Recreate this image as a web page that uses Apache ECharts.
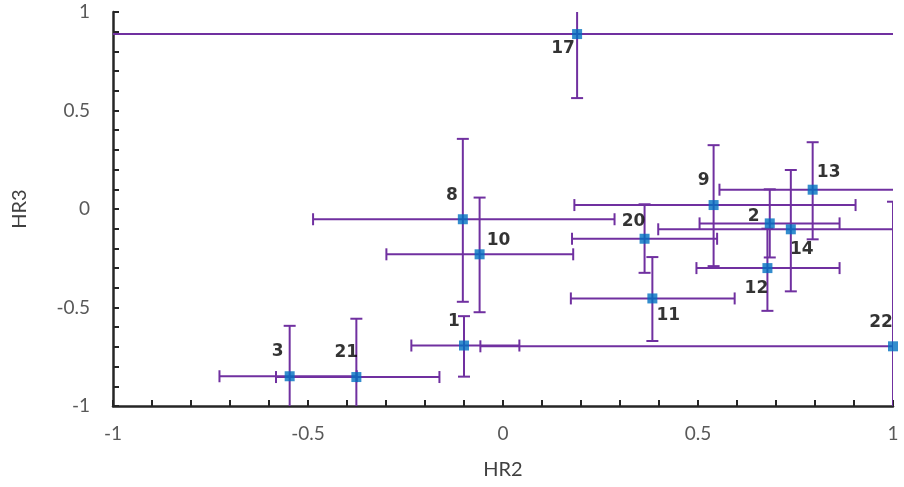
<!DOCTYPE html>
<html>
<head>
<meta charset="utf-8">
<script src="https://cdn.jsdelivr.net/npm/echarts@6/dist/echarts.min.js"></script>
<style>
  html, body { margin: 0; padding: 0; background: #fff; }
  #chart { width: 904px; height: 487px; }
</style>
</head>
<body>
<div id="chart"></div>
<script>
// Point identifiers
const ids = ['1', '2', '3', '8', '9', '10', '11', '12', '13', '14', '17', '20', '21', '22'];
// Hardness ratios (centre values)
const hr2 = [-0.10, 0.684, -0.547, -0.103, 0.540, -0.060, 0.383, 0.678, 0.794, 0.738, 0.190, 0.363, -0.376, 1.000];
const hr3 = [-0.693, -0.073, -0.849, -0.052, 0.020, -0.230, -0.454, -0.300, 0.098, -0.103, 0.888, -0.151, -0.853, -0.697];
// Error ranges on HR2 (low / high)
const hr2Lo = [-0.235, 0.504, -0.727, -0.487, 0.183, -0.299, 0.174, 0.496, 0.555, 0.398, -1.2, 0.177, -0.582, -0.058];
const hr2Hi = [0.042, 0.863, -0.375, 0.286, 0.904, 0.180, 0.594, 0.863, 1.05, 1.05, 1.2, 0.549, -0.163, 1.1];
// Error ranges on HR3 (low / high)
const hr3Lo = [-0.851, -0.246, -1.1, -0.471, -0.290, -0.524, -0.670, -0.517, -0.154, -0.418, 0.563, -0.324, -1.1, -1.1];
const hr3Hi = [-0.544, 0.100, -0.593, 0.356, 0.324, 0.058, -0.244, -0.100, 0.339, 0.198, 1.1, 0.024, -0.557, 0.037];

// Label placement relative to each marker (pixels)
const labelOffsets = [[-10, -24], [-16, -7], [-12, -25], [-11, -24], [-10, -24], [19, -14], [16, 17],
                      [-11, 20], [16, -17], [11, 20], [-14, 15], [-11, -17], [-10, -24], [-12, -24]];

const barColor = '#7030A0';
const markColor = '#0070C0';
const capHalf = 6;

const errData = ids.map((id, i) => [hr2[i], hr3[i], hr2Lo[i], hr2Hi[i], hr3Lo[i], hr3Hi[i]]);
const ptData = ids.map((id, i) => ({
  value: [hr2[i], hr3[i]],
  name: id,
  label: { offset: labelOffsets[i] }
}));

function renderErrorBars(params, api) {
  const x = api.value(0), y = api.value(1);
  const c = api.coord([x, y]);
  const l = api.coord([api.value(2), y]);
  const r = api.coord([api.value(3), y]);
  const b = api.coord([x, api.value(4)]);
  const t = api.coord([x, api.value(5)]);
  const style = { stroke: barColor, lineWidth: 2, fill: null };
  const seg = (x1, y1, x2, y2) => ({ type: 'line', shape: { x1, y1, x2, y2 }, style });
  return {
    type: 'group',
    children: [
      seg(l[0], c[1], r[0], c[1]),
      seg(l[0], c[1] - capHalf, l[0], c[1] + capHalf),
      seg(r[0], c[1] - capHalf, r[0], c[1] + capHalf),
      seg(c[0], b[1], c[0], t[1]),
      seg(c[0] - capHalf, b[1], c[0] + capHalf, b[1]),
      seg(c[0] - capHalf, t[1], c[0] + capHalf, t[1])
    ]
  };
}

function fmtTick(v) {
  const r = Math.round(v * 10) / 10;
  if (Math.abs(r * 2 - Math.round(r * 2)) > 1e-6) return '';
  return String(r);
}

const axisCommon = {
  type: 'value',
  min: -1,
  max: 1,
  interval: 0.1,
  splitLine: { show: false },
  axisLine: { show: true, onZero: false, lineStyle: { color: '#262626', width: 2.5 } },
  axisTick: { show: true, inside: true, length: 6, lineStyle: { color: '#262626', width: 2 } },
  nameLocation: 'middle',
  nameTextStyle: { fontFamily: 'Lato', fontSize: 20, color: '#404040' }
};

const chart = echarts.init(document.getElementById('chart'), null, { renderer: 'canvas' });
chart.setOption({
  animation: false,
  backgroundColor: '#ffffff',
  grid: { left: 113, right: 11, top: 12, bottom: 81, containLabel: false },
  xAxis: Object.assign({}, axisCommon, {
    name: 'HR2',
    nameGap: 54,
    axisLabel: { formatter: fmtTick, margin: 18, fontFamily: 'Lato', fontSize: 19, color: '#595959', showMinLabel: true, showMaxLabel: true }
  }),
  yAxis: Object.assign({}, axisCommon, {
    name: 'HR3',
    nameGap: 83,
    nameRotate: 90,
    axisLabel: { formatter: fmtTick, margin: 23, fontFamily: 'Lato', fontSize: 19, color: '#595959', showMinLabel: true, showMaxLabel: true }
  }),
  series: [
    {
      type: 'custom',
      renderItem: renderErrorBars,
      data: errData,
      clip: true,
      encode: { x: 0, y: 1 },
      z: 2,
      silent: true
    },
    {
      type: 'scatter',
      data: ptData,
      symbol: 'rect',
      symbolSize: 10,
      clip: false,
      itemStyle: { color: markColor },
      label: {
        show: true,
        position: 'inside',
        formatter: p => p.name,
        fontFamily: 'DejaVu Sans',
        fontWeight: 'bold',
        fontSize: 17,
        color: '#000000'
      },
      z: 3
    }
  ]
});
</script>
</body>
</html>
